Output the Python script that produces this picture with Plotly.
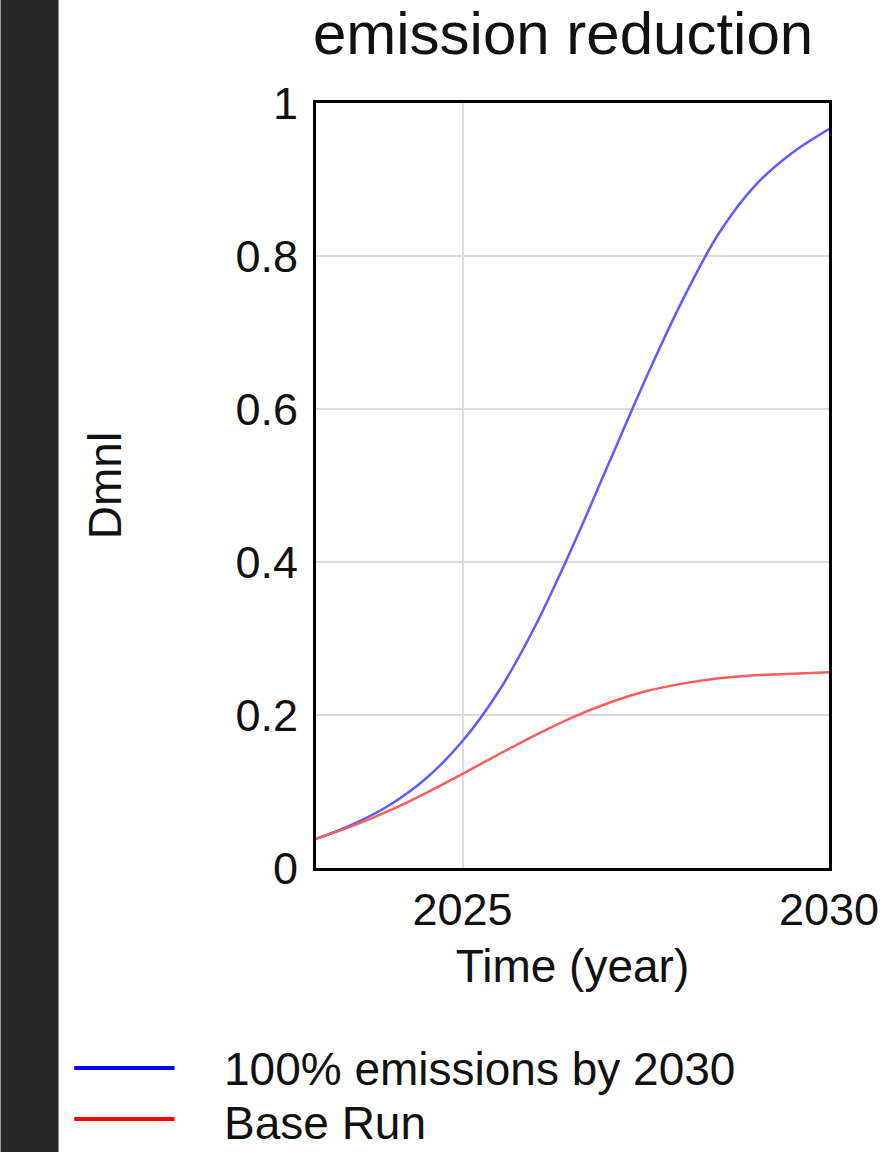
import plotly.graph_objects as go

# ---- data ----
years = [2023.0, 2023.5, 2024.0, 2024.5, 2025.0, 2025.5, 2026.0, 2026.5,
         2027.0, 2027.5, 2028.0, 2028.5, 2029.0, 2029.5, 2030.0]
scenario_name = "100% emissions by 2030"
scenario_values = [0.038, 0.057, 0.082, 0.117, 0.166, 0.232, 0.318, 0.420,
                   0.530, 0.640, 0.742, 0.830, 0.893, 0.935, 0.966]
base_name = "Base Run"
base_values = [0.038, 0.055, 0.075, 0.098, 0.123, 0.149, 0.174, 0.197,
               0.216, 0.231, 0.241, 0.248, 0.252, 0.254, 0.256]
x_ticks = [2025, 2030]
y_ticks = [0, 0.2, 0.4, 0.6, 0.8, 1]
y_tick_labels = ["0", "0.2", "0.4", "0.6", "0.8", "1"]

# ---- layout geometry (pixels) ----
W, H = 891, 1152
L, R, T, B = 316, 838, 103, 868
pw, ph = R - L, B - T

def px_x(px):
    return (px - L) / pw

def px_y(py):
    return (B - py) / ph

FONT = "Arial, 'Liberation Sans', Helvetica, sans-serif"

fig = go.Figure()
fig.add_trace(go.Scatter(x=years, y=scenario_values, mode="lines", name=scenario_name,
                         line=dict(color="#5c5cff", width=2.5, shape="spline", smoothing=1.0),
                         showlegend=False))
fig.add_trace(go.Scatter(x=years, y=base_values, mode="lines", name=base_name,
                         line=dict(color="#ff5c5c", width=2.5, shape="spline", smoothing=1.0),
                         showlegend=False))

shapes = [
    # dark strip on the left
    dict(type="rect", xref="paper", yref="paper", x0=px_x(-5), x1=px_x(54),
         y0=px_y(H + 5), y1=px_y(-5), fillcolor="#262626", line=dict(width=0), layer="below"),
    # legend samples
    dict(type="line", xref="paper", yref="paper", x0=px_x(70), x1=px_x(172),
         y0=px_y(1068), y1=px_y(1068), line=dict(color="#0000ff", width=4)),
    dict(type="line", xref="paper", yref="paper", x0=px_x(70), x1=px_x(172),
         y0=px_y(1119), y1=px_y(1119), line=dict(color="#ff0000", width=4)),
]

annotations = [
    dict(text=scenario_name, xref="paper", yref="paper", x=px_x(220), y=px_y(1069),
         xanchor="left", yanchor="middle", showarrow=False, font=dict(size=46, color="#111", family=FONT)),
    dict(text=base_name, xref="paper", yref="paper", x=px_x(220), y=px_y(1123),
         xanchor="left", yanchor="middle", showarrow=False, font=dict(size=46, color="#111", family=FONT)),
]

fig.update_layout(
    width=W, height=H,
    margin=dict(l=L, r=W - R, t=T, b=H - B, pad=0),
    paper_bgcolor="white", plot_bgcolor="white",
    font=dict(family=FONT, color="#111", size=46),
    title=dict(text="emission reduction", x=563 / W, xref="container",
               xanchor="center", y=1 - 33 / H, yanchor="middle",
               font=dict(size=60, color="#111", family=FONT)),
    shapes=shapes,
    annotations=annotations,
    showlegend=False,
)

fig.update_xaxes(range=[2023, 2030], tickvals=x_ticks, ticktext=[str(v) for v in x_ticks],
                 showgrid=True, gridcolor="#dcdcdc", gridwidth=2,
                 showline=True, linecolor="black", linewidth=3, mirror=True,
                 ticks="", zeroline=False, tickfont=dict(size=45),
                 title=dict(text="Time (year)", font=dict(size=46), standoff=16))
fig.update_yaxes(range=[0, 1], tickvals=y_ticks, ticktext=y_tick_labels,
                 showgrid=True, gridcolor="#dcdcdc", gridwidth=2,
                 showline=True, linecolor="black", linewidth=3, mirror=True,
                 ticks="", zeroline=False, tickfont=dict(size=45), ticklabelstandoff=6,
                 title=dict(text="Dmnl", font=dict(size=46), standoff=100))

fig.write_html("out.html",
               config={"displayModeBar": False},
               post_script="document.body.style.margin='0';document.body.style.overflow='hidden';")
